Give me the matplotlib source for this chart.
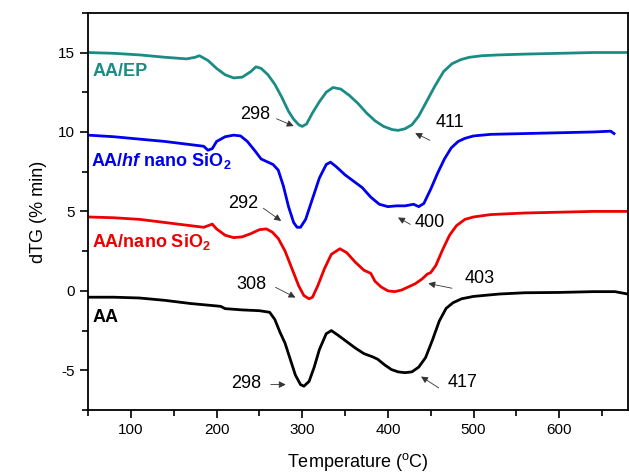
import matplotlib
matplotlib.use("Agg")
import matplotlib.pyplot as plt
from matplotlib.ticker import MultipleLocator

plt.rcParams['font.family'] = ['Liberation Sans', 'DejaVu Sans']
plt.rcParams['mathtext.fontset'] = 'custom'
plt.rcParams['mathtext.rm'] = 'Liberation Sans'
plt.rcParams['mathtext.bf'] = 'Liberation Sans:bold'
plt.rcParams['mathtext.it'] = 'Liberation Sans:italic:bold'
plt.rcParams['axes.unicode_minus'] = False

# AA/EP
t_ep = [50, 80, 110, 140, 165, 175, 180, 190, 200, 210, 220, 230, 240, 246, 252, 260, 268, 276,
        284, 290, 296, 300, 305, 312, 320, 328, 336, 345, 355, 365, 375, 385, 395, 405, 412, 420,
        428, 436, 445, 455, 465, 475, 485, 495, 510, 530, 560, 600, 640, 680]
d_ep = [15.0, 14.95, 14.85, 14.7, 14.6, 14.7, 14.8, 14.5, 14.0, 13.6, 13.4, 13.45, 13.8, 14.1,
        14.0, 13.6, 13.0, 12.2, 11.3, 10.8, 10.45, 10.35, 10.5, 11.2, 11.9, 12.5, 12.8, 12.7,
        12.3, 11.8, 11.2, 10.7, 10.35, 10.15, 10.1, 10.2, 10.45, 11.0, 11.9, 12.9, 13.8, 14.3,
        14.55, 14.7, 14.8, 14.85, 14.9, 14.95, 15.0, 15.0]

# AA/hf nano SiO2
t_hf = [50, 80, 110, 140, 170, 185, 190, 195, 200, 210, 220, 228, 236, 245, 252, 260, 266, 272,
        278, 284, 290, 294, 298, 304, 312, 320, 328, 333, 340, 350, 360, 370, 380, 390, 400, 410,
        420, 430, 436, 442, 450, 458, 466, 474, 482, 490, 500, 520, 560, 600, 640, 660, 664]
d_hf = [9.8, 9.7, 9.55, 9.4, 9.2, 9.1, 8.85, 8.95, 9.4, 9.7, 9.8, 9.75, 9.4, 8.8, 8.3, 8.1, 7.95,
        7.6, 6.6, 5.3, 4.3, 4.0, 4.0, 4.5, 5.8, 7.1, 7.95, 8.1, 7.8, 7.3, 6.9, 6.5, 5.9, 5.45,
        5.3, 5.35, 5.35, 5.45, 5.3, 5.5, 6.4, 7.4, 8.3, 9.0, 9.4, 9.6, 9.75, 9.85, 9.9, 9.95,
        10.0, 10.05, 9.9]

# AA/nano SiO2
t_ns = [50, 80, 110, 140, 170, 185, 195, 200, 210, 220, 230, 240, 250, 258, 265, 272, 280, 288,
        296, 302, 308, 312, 318, 326, 334, 344, 352, 362, 372, 380, 385, 392, 400, 408, 416, 424,
        432, 440, 446, 450, 456, 464, 472, 480, 490, 500, 520, 560, 600, 640, 680]
d_ns = [4.65, 4.6, 4.5, 4.3, 4.1, 4.0, 4.2, 3.9, 3.5, 3.35, 3.4, 3.6, 3.85, 3.9, 3.7, 3.3, 2.5,
        1.4, 0.3, -0.3, -0.5, -0.4, 0.3, 1.4, 2.3, 2.65, 2.4, 1.8, 1.3, 1.1, 0.6, 0.25, 0.0,
        -0.05, 0.05, 0.25, 0.45, 0.75, 1.05, 1.15, 1.6, 2.6, 3.5, 4.1, 4.5, 4.65, 4.8, 4.9,
        4.95, 5.0, 5.0]

# AA
t_aa = [50, 80, 110, 140, 170, 200, 205, 210, 230, 250, 262, 268, 274, 280, 286, 292, 298, 302,
        308, 314, 320, 328, 334, 342, 352, 362, 372, 382, 388, 396, 404, 412, 420, 428, 436, 444,
        452, 460, 468, 476, 486, 500, 530, 560, 600, 640, 665, 680]
d_aa = [-0.4, -0.4, -0.45, -0.6, -0.8, -0.95, -0.98, -1.12, -1.2, -1.25, -1.35, -1.8, -2.6, -3.3,
        -4.3, -5.3, -5.9, -6.0, -5.7, -4.8, -3.7, -2.7, -2.5, -2.8, -3.2, -3.6, -3.95, -4.15,
        -4.3, -4.65, -4.95, -5.1, -5.15, -5.1, -4.8, -4.2, -3.1, -1.9, -1.1, -0.75, -0.5, -0.35,
        -0.2, -0.12, -0.1, -0.05, -0.05, -0.2]

c_ep, c_hf, c_ns, c_aa = '#1b8c84', '#0000ee', '#ee0000', '#000000'

# peak labels: text, text pos, arrow tail, arrow head
peaks = [("298", (245, 11.1), (267, 10.9), (293, 10.3)),
         ("411", (472, 10.6), (452, 9.4), (429, 10.0)),
         ("292", (231, 5.5), (252, 5.3), (278, 4.3)),
         ("400", (449, 4.3), (429, 4.1), (409, 4.7)),
         ("308", (241, 0.38), (266, 0.3), (295, -0.5)),
         ("403", (507, 0.75), (478, 0.13), (444, 0.5)),
         ("298", (235, -5.85), (260, -5.9), (284, -5.9)),
         ("417", (487, -5.8), (462, -6.2), (436, -5.3))]

fig = plt.figure(figsize=(6.29, 4.74), dpi=100)
ax = fig.add_axes([0.140, 0.135, 0.858, 0.838])

ax.plot(t_ep, d_ep, color=c_ep, lw=2.0)
ax.plot(t_hf, d_hf, color=c_hf, lw=2.0)
ax.plot(t_ns, d_ns, color=c_ns, lw=2.0)
ax.plot(t_aa, d_aa, color=c_aa, lw=2.0)

ax.text(55, 13.8, "AA/EP", color=c_ep, fontsize=13, fontweight='bold', va='center')
ax.text(54, 8.2, "AA/$\\mathit{hf}$ nano SiO$_\\mathbf{2}$", color=c_hf, fontsize=13,
        fontweight='bold', va='center')
ax.text(55, 3.1, "AA/nano SiO$_\\mathbf{2}$", color=c_ns, fontsize=13, fontweight='bold', va='center')
ax.text(55, -1.7, "AA", color=c_aa, fontsize=13, fontweight='bold', va='center')

for lab, tp, tail, head in peaks:
    ax.text(tp[0], tp[1], lab, fontsize=13, ha='center', va='center')
    ax.annotate("", xy=head, xytext=tail,
                arrowprops=dict(arrowstyle='-|>', color='#333333', lw=0.6, mutation_scale=10))

ax.set_xlim(50, 680)
ax.set_ylim(-7.5, 17.5)
ax.xaxis.set_major_locator(MultipleLocator(100))
ax.xaxis.set_minor_locator(MultipleLocator(50))
ax.yaxis.set_major_locator(MultipleLocator(5))
ax.yaxis.set_minor_locator(MultipleLocator(2.5))
ax.tick_params(which='both', direction='out', labelsize=11, width=1.2)
ax.tick_params(which='major', length=6)
ax.tick_params(which='minor', length=4)
ax.tick_params(top=False, right=False)
for s in ax.spines.values():
    s.set_linewidth(1.3)

ax.set_xlabel("Temperature ($^\\mathrm{o}$C)", fontsize=13, labelpad=10)
ax.set_ylabel("dTG (% min)", fontsize=13, labelpad=8)

fig.savefig("out.png", dpi=100)
